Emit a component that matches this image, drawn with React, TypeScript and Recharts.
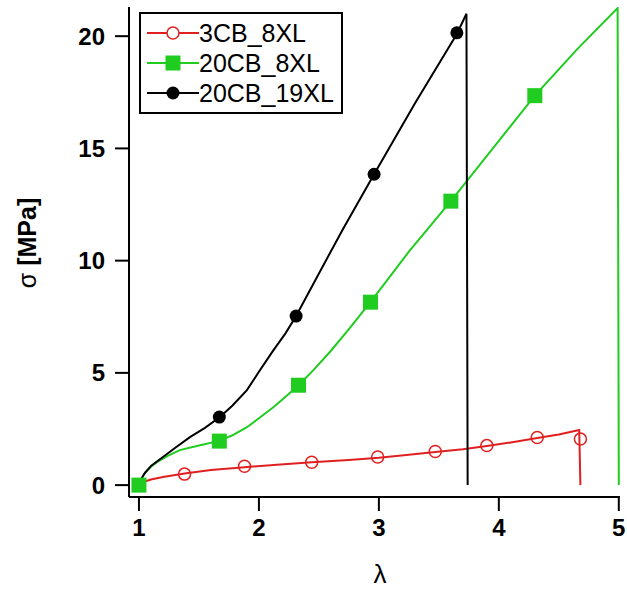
import { LineChart, Line, XAxis, YAxis } from 'recharts';

// λ / σ pairs
const redLambda = [1.0, 1.03, 1.1, 1.2, 1.38, 1.6, 1.88, 2.15, 2.44, 2.75, 3.0, 3.25, 3.47, 3.7, 3.9, 4.1, 4.32, 4.5, 4.67, 4.68];
const redSigma = [0, 0.13, 0.25, 0.36, 0.52, 0.67, 0.8, 0.91, 1.02, 1.12, 1.22, 1.35, 1.48, 1.6, 1.74, 1.9, 2.1, 2.25, 2.45, 0];
const redMarkLambda = [1.38, 1.88, 2.44, 2.99, 3.47, 3.9, 4.32, 4.68];
const redMarkSigma = [0.49, 0.84, 1.02, 1.25, 1.5, 1.76, 2.12, 2.05];

const greenLambda = [1.0, 1.02, 1.05, 1.1, 1.15, 1.24, 1.34, 1.5, 1.66, 1.78, 1.9, 2.0, 2.12, 2.22, 2.33, 2.45, 2.59, 2.75, 2.93, 3.25, 3.6, 3.95, 4.3, 4.65, 4.99, 5.0];
const greenSigma = [0, 0.28, 0.55, 0.82, 1.02, 1.3, 1.56, 1.76, 1.96, 2.22, 2.58, 2.98, 3.47, 3.93, 4.45, 5.1, 5.92, 6.95, 8.15, 10.4, 12.65, 15.0, 17.35, 19.4, 21.25, 0];
const greenMarkLambda = [1.0, 1.67, 2.33, 2.93, 3.6, 4.3];
const greenMarkSigma = [0, 1.96, 4.45, 8.15, 12.65, 17.35];

const blackLambda = [1.0, 1.02, 1.05, 1.1, 1.2, 1.3, 1.425, 1.55, 1.675, 1.78, 1.9, 2.0, 2.12, 2.22, 2.31, 2.47, 2.7, 2.96, 3.3, 3.65, 3.73, 3.74];
const blackSigma = [0, 0.28, 0.55, 0.85, 1.25, 1.65, 2.14, 2.55, 3.03, 3.55, 4.23, 5.05, 6.0, 6.75, 7.53, 9.13, 11.4, 13.85, 17.0, 20.1, 21.0, 0];
const blackMarkLambda = [1.67, 2.31, 2.96, 3.65];
const blackMarkSigma = [3.03, 7.53, 13.85, 20.15];

const xTicks = [1, 2, 3, 4, 5];
const yTicks = [0, 5, 10, 15, 20];

const RED = '#e02020';
const GREEN = '#1fcc1f';
const BLACK = '#000000';
const FONT = '"Liberation Sans", Arial, sans-serif';

const pairs = (xs: number[], ys: number[]) => xs.map((x, i) => ({ x, y: ys[i] }));

const redLine = pairs(redLambda, redSigma);
const redMarks = pairs(redMarkLambda, redMarkSigma);
const greenLine = pairs(greenLambda, greenSigma);
const greenMarks = pairs(greenMarkLambda, greenMarkSigma);
const blackLine = pairs(blackLambda, blackSigma);
const blackMarks = pairs(blackMarkLambda, blackMarkSigma);

function Circle(props: any) {
  const { cx, cy } = props;
  if (cx == null || cy == null) return null;
  return <circle cx={cx} cy={cy} r={6} fill="none" stroke={RED} strokeWidth={1.5} />;
}

function Square(props: any) {
  const { cx, cy } = props;
  if (cx == null || cy == null) return null;
  return <rect x={cx - 7.5} y={cy - 7.5} width={15} height={15} fill={GREEN} />;
}

function Dot(props: any) {
  const { cx, cy } = props;
  if (cx == null || cy == null) return null;
  return <circle cx={cx} cy={cy} r={6.5} fill={BLACK} />;
}

const legendItems = [
  { name: '3CB_8XL', color: RED, kind: 'circle' },
  { name: '20CB_8XL', color: GREEN, kind: 'square' },
  { name: '20CB_19XL', color: BLACK, kind: 'dot' },
];

function LegendBox() {
  return (
    <div
      style={{
        position: 'absolute',
        left: 139,
        top: 12,
        border: '2px solid #000',
        background: '#fff',
        width: 200,
        padding: '4px 0',
        fontFamily: FONT,
        fontSize: 25,
        lineHeight: '29px',
      }}
    >
      {legendItems.map((it) => (
        <div key={it.name} style={{ display: 'flex', alignItems: 'center', height: 30 }}>
          <svg width={54} height={20} style={{ marginLeft: 4 }}>
            <line x1={2} y1={10} x2={54} y2={10} stroke={it.color} strokeWidth={2} />
            {it.kind === 'circle' && <circle cx={28} cy={10} r={6} fill="#fff" stroke={RED} strokeWidth={1.5} />}
            {it.kind === 'square' && <rect x={20.5} y={2.5} width={15} height={15} fill={GREEN} />}
            {it.kind === 'dot' && <circle cx={28} cy={10} r={6.5} fill={BLACK} />}
          </svg>
          <span style={{ color: '#000' }}>{it.name}</span>
        </div>
      ))}
    </div>
  );
}

const tickStyle = { fill: '#000', fontSize: 24, fontWeight: 'bold', fontFamily: FONT };

export default function App() {
  return (
    <div style={{ position: 'relative', width: 627, height: 590, background: '#fff' }}>
      <style>{'body{margin:0}'}</style>
      <LineChart width={627} height={590} margin={{ top: 7, right: 7, left: 0, bottom: 0 }}>
        <XAxis
          type="number"
          dataKey="x"
          domain={[0.917, 5.01]}
          ticks={xTicks}
          allowDataOverflow
          height={93}
          axisLine={{ stroke: '#000', strokeWidth: 2 }}
          tickLine={{ stroke: '#000', strokeWidth: 2 }}
          tickSize={14}
          tickMargin={8}
          tick={tickStyle}
          label={{
            content: () => (
              <text x={380} y={583} textAnchor="middle" fontFamily={FONT} fontSize={26} fill="#000">
                λ
              </text>
            ),
          }}
        />
        <YAxis
          type="number"
          domain={[-0.53, 21.3]}
          ticks={yTicks}
          allowDataOverflow
          width={129}
          axisLine={{ stroke: '#000', strokeWidth: 2 }}
          tickLine={{ stroke: '#000', strokeWidth: 2 }}
          tickSize={14}
          tickMargin={10}
          tick={tickStyle}
          label={{
            content: () => (
              <text transform="translate(36,243) rotate(-90)" textAnchor="middle" fontFamily={FONT} fontSize={25} fill="#000">
                <tspan>σ </tspan>
                <tspan fontWeight="bold">[MPa]</tspan>
              </text>
            ),
          }}
        />
        <Line data={redLine} dataKey="y" type="linear" stroke={RED} strokeWidth={2} dot={false} activeDot={false} isAnimationActive={false} />
        <Line data={greenLine} dataKey="y" type="linear" stroke={GREEN} strokeWidth={2} dot={false} activeDot={false} isAnimationActive={false} />
        <Line data={blackLine} dataKey="y" type="linear" stroke={BLACK} strokeWidth={2} dot={false} activeDot={false} isAnimationActive={false} />
        <Line data={redMarks} dataKey="y" stroke="none" dot={<Circle />} activeDot={false} isAnimationActive={false} />
        <Line data={greenMarks} dataKey="y" stroke="none" dot={<Square />} activeDot={false} isAnimationActive={false} />
        <Line data={blackMarks} dataKey="y" stroke="none" dot={<Dot />} activeDot={false} isAnimationActive={false} />
      </LineChart>
      <LegendBox />
    </div>
  );
}
